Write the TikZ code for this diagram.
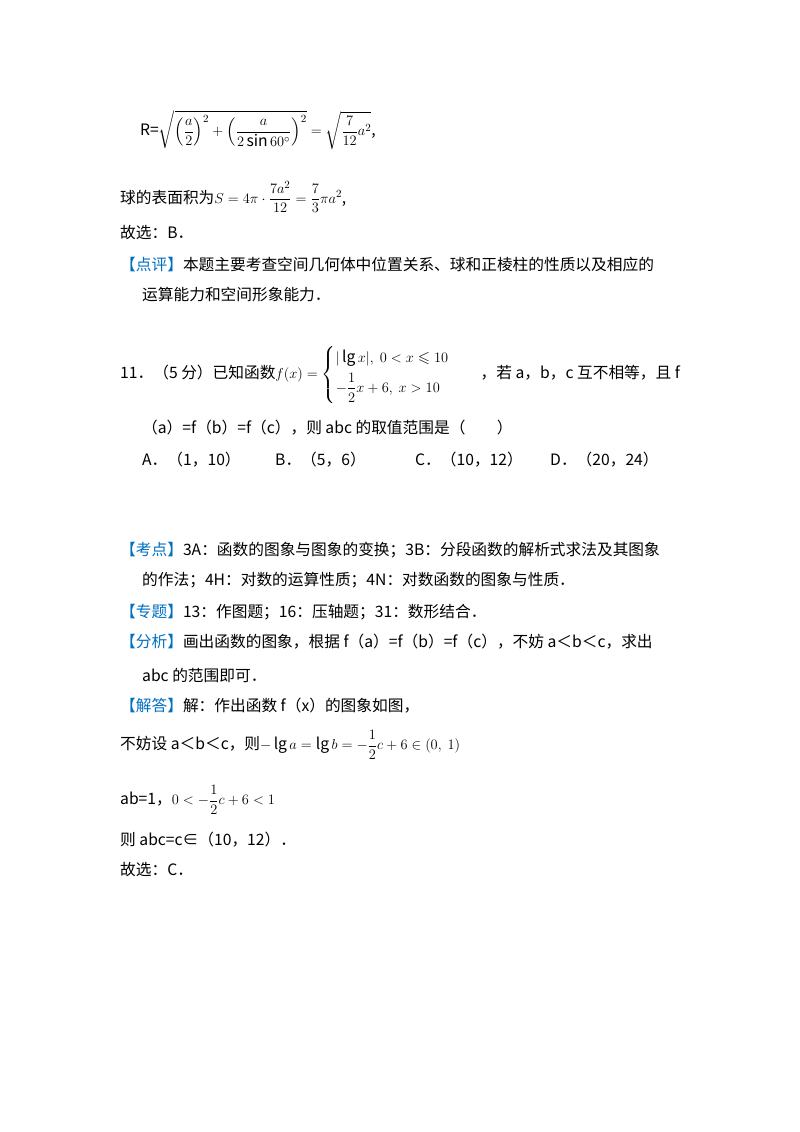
\documentclass[tikz,border=0pt]{standalone}
\usepackage{fontspec}
\usepackage{amsmath,amssymb}
\setmainfont{Noto Sans CJK SC}
\definecolor{hdr}{RGB}{0,112,192}
\begin{document}
\begin{tikzpicture}[x=1pt,y=-1pt,
  t/.style={anchor=west,inner sep=0pt,font=\fontsize{15.7}{18}\selectfont},
  h/.style={text=hdr}]
\useasboundingbox (0,0) rectangle (800,1132);
\node[t] (l1) at (140,130) {R=$\sqrt{\left(\dfrac{a}{2}\right)^2+\left(\dfrac{a}{2\sin 60^\circ}\right)^2}=\sqrt{\dfrac{7}{12}a^2}$,};
\node[t] (l2) at (120,197) {球的表面积为$S=4\pi\cdot\dfrac{7a^2}{12}=\dfrac{7}{3}\pi a^2$,};
\node[t] (l3) at (120,233) {故选：B．};
\node[t] (l4) at (120,265) {\textcolor{hdr}{【点评】}本题主要考查空间几何体中位置关系、球和正棱柱的性质以及相应的};
\node[t] (l5) at (142,295) {运算能力和空间形象能力．};
\node[t] (l6) at (120,375) {11．（5 分）已知函数$f(x)=\begin{cases}|\lg x|,\ 0<x\leqslant 10\\[4pt] -\dfrac{1}{2}x+6,\ x>10\end{cases}$\quad ，若 a，b，c 互不相等，且 f};
\node[t] (l7) at (142,428) {（a）=f（b）=f（c），则 abc 的取值范围是（\qquad）};
\node[t] (oa) at (142,460) {A．（1，10）};
\node[t] (ob) at (275,460) {B．（5，6）};
\node[t] (oc) at (415,460) {C．（10，12）};
\node[t] (od) at (550,460) {D．（20，24）};
\node[t] (k1) at (120,550) {\textcolor{hdr}{【考点】}3A：函数的图象与图象的变换；3B：分段函数的解析式求法及其图象};
\node[t] (k2) at (142,580) {的作法；4H：对数的运算性质；4N：对数函数的图象与性质．};
\node[t] (z1) at (120,612) {\textcolor{hdr}{【专题】}13：作图题；16：压轴题；31：数形结合．};
\node[t] (f1) at (120,642) {\textcolor{hdr}{【分析】}画出函数的图象，根据 f（a）=f（b）=f（c），不妨 a＜b＜c，求出};
\node[t] (f2) at (142,675) {abc 的范围即可．};
\node[t] (j1) at (120,706) {\textcolor{hdr}{【解答】}解：作出函数 f（x）的图象如图，};
\node[t] (j2) at (120,745) {不妨设 a＜b＜c，则$-\lg a=\lg b=-\dfrac{1}{2}c+6\in(0,\ 1)$};
\node[t] (j3) at (120,800) {ab=1，$0<-\dfrac{1}{2}c+6<1$};
\node[t] (j4) at (120,840) {则 abc=c∈（10，12）．};
\node[t] (j5) at (120,870) {故选：C．};
\end{tikzpicture}
\end{document}
